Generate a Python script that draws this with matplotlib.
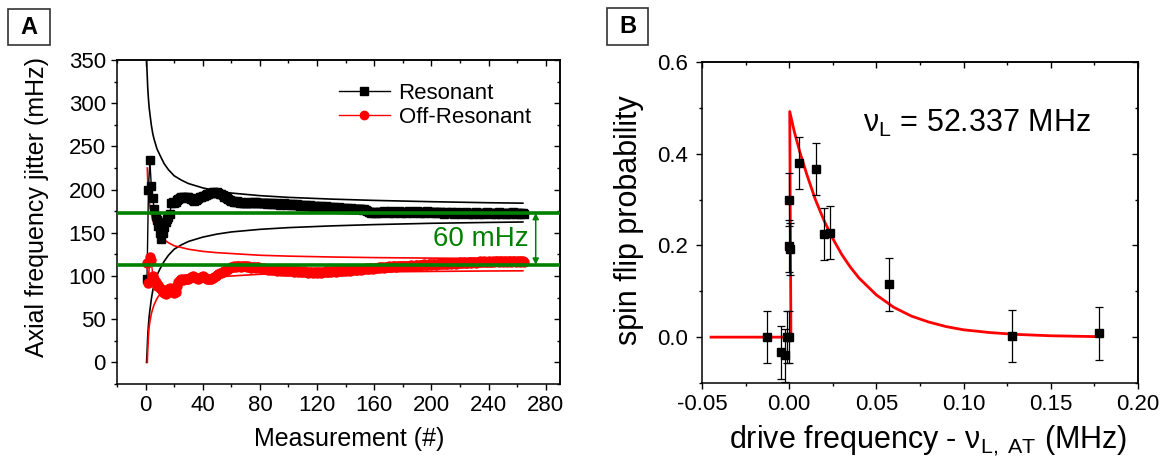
import numpy as np
import matplotlib
matplotlib.use('Agg')
import matplotlib.pyplot as plt
from matplotlib.ticker import MultipleLocator, FormatStrFormatter, NullFormatter
from matplotlib.patches import Rectangle

plt.rcParams['font.family'] = ['Liberation Sans', 'DejaVu Sans']
plt.rcParams['mathtext.fontset'] = 'custom'
plt.rcParams['mathtext.rm'] = 'Liberation Sans'
plt.rcParams['mathtext.it'] = 'Liberation Sans:italic'
plt.rcParams['axes.unicode_minus'] = False

# ---------------- Panel A data ----------------
resonant = [
    96, 200, 234, 204, 190, 178, 170, 165, 158, 150, 143, 150, 157, 163, 166, 168, 172, 184, 186, 185,
    186, 188, 189, 190, 191, 192, 191, 190, 191, 192, 190, 189, 188, 187, 188, 189, 190, 191, 192, 193,
    193, 194, 195, 195, 196, 196, 197, 197, 196, 197, 196, 195, 195, 194, 192, 191, 190, 189, 188, 187,
    187, 186, 186, 187, 186, 185, 186, 185, 185, 184, 185, 186, 185, 184, 185, 186, 186, 185, 184, 185,
    184, 185, 184, 184, 183, 184, 184, 183, 184, 183, 183, 184, 183, 182, 183, 183, 184, 183, 182, 183,
    183, 182, 183, 182, 182, 183, 182, 181, 182, 182, 181, 182, 181, 181, 182, 181, 180, 181, 181, 180,
    181, 180, 181, 180, 180, 181, 180, 179, 180, 180, 179, 180, 179, 179, 180, 179, 178, 179, 179, 178,
    179, 178, 178, 179, 178, 177, 178, 178, 177, 178, 177, 176, 177, 176, 175, 174, 174, 173, 174, 173,
    174, 173, 174, 174, 173, 174, 175, 174, 174, 173, 174, 175, 174, 173, 174, 174, 175, 174, 173, 174,
    174, 173, 174, 175, 174, 174, 173, 174, 174, 175, 174, 173, 174, 174, 173, 174, 175, 174, 174, 173,
    174, 174, 173, 174, 173, 174, 174, 173, 172, 173, 174, 173, 173, 174, 173, 172, 173, 174, 173, 173,
    172, 173, 173, 174, 173, 172, 173, 173, 172, 173, 174, 173, 172, 173, 173, 172, 173, 173, 174, 173,
    173, 172, 173, 173, 172, 173, 174, 173, 172, 173, 173, 172, 173, 173, 172, 173, 174, 173, 172, 173,
    173, 172, 173, 173, 172,
]
off_resonant = [
    115, 92, 122, 119, 100, 96, 93, 88, 90, 86, 85, 82, 80, 79, 82, 85, 86, 84, 81, 80,
    82, 88, 93, 95, 96, 95, 96, 97, 96, 97, 98, 99, 100, 99, 98, 98, 97, 98, 99, 100,
    99, 98, 97, 97, 96, 97, 98, 99, 100, 101, 102, 103, 104, 105, 106, 107, 107, 108, 109, 110,
    110, 111, 110, 111, 112, 111, 110, 111, 112, 111, 110, 111, 110, 109, 110, 110, 109, 110, 110, 109,
    109, 108, 109, 108, 108, 107, 108, 107, 107, 108, 107, 106, 107, 107, 106, 107, 106, 106, 107, 106,
    106, 107, 106, 105, 106, 106, 105, 106, 105, 105, 106, 105, 105, 104, 105, 105, 104, 105, 105, 104,
    105, 105, 104, 105, 105, 106, 105, 105, 106, 105, 106, 106, 105, 106, 106, 107, 106, 106, 107, 106,
    107, 107, 106, 107, 107, 108, 107, 107, 108, 108, 107, 108, 108, 109, 108, 108, 109, 109, 108, 109,
    109, 109, 110, 109, 110, 110, 109, 110, 110, 111, 110, 110, 111, 111, 110, 111, 111, 112, 111, 111,
    112, 112, 111, 112, 112, 113, 112, 112, 113, 113, 112, 113, 113, 113, 114, 113, 113, 114, 114, 113,
    114, 114, 113, 114, 114, 115, 114, 114, 115, 114, 114, 115, 115, 114, 115, 115, 114, 115, 115, 116,
    115, 115, 116, 115, 115, 116, 116, 115, 116, 116, 115, 116, 116, 117, 116, 116, 117, 116, 116, 117,
    116, 116, 117, 116, 117, 117, 116, 117, 117, 116, 117, 117, 116, 117, 117, 116, 117, 117, 116, 117,
    117, 116, 117, 117, 116,
]
# confidence envelopes
res_env_n = [0.7, 1, 1.5, 2, 2.5, 3, 4, 5, 6, 8, 10, 13, 16, 20, 25, 30, 40, 50, 60, 80, 100, 130, 160, 200, 240, 264]
res_env_up = [350, 338, 318, 305, 295, 288, 275, 265, 258, 247, 240, 230, 223, 216, 211, 207, 202, 198.5, 196, 193, 191, 189, 187.5, 186, 184.8, 184.3]
res_env_lo = [0, 10, 30, 43, 53, 60, 73, 83, 90, 101, 108, 117, 124, 131, 136, 140, 145, 148.5, 151, 154, 156, 158, 159.5, 161, 162, 162.5]
off_env_n = [1.2, 1.5, 2, 2.5, 3, 4, 5, 6, 8, 10, 13, 16, 20, 25, 30, 40, 50, 60, 80, 100, 130, 160, 200, 240, 264]
off_env_up = [225, 210, 195, 186, 180, 172, 165, 160, 153, 147, 142, 138.5, 135, 133, 131, 128.5, 127, 126, 124, 123, 122, 121.3, 120.7, 120.2, 120]
off_env_lo = [0, 14, 31, 41, 47, 56, 62, 67, 74, 79, 84, 87.5, 91, 93.5, 95, 97.5, 99, 100, 102, 103, 104, 104.7, 105.3, 105.8, 106]
level_res = 173
level_off = 113
diff_label = "60 mHz"

# ---------------- Panel B data ----------------
bx = [-0.0128, -0.0046, -0.0025, -0.0015, 0.0, -0.0002, 0.0, 0.0002, 0.0056, 0.0155, 0.0202, 0.0235, 0.0575, 0.1275, 0.1777]
by = [0.0, -0.033, -0.040, 0.0, 0.0, 0.300, 0.198, 0.192, 0.380, 0.366, 0.225, 0.228, 0.115, 0.002, 0.008]
berr = [0.057, 0.058, 0.058, 0.057, 0.057, 0.057, 0.057, 0.057, 0.057, 0.057, 0.057, 0.057, 0.057, 0.057, 0.057]
fit_x = [-0.0448, 0.0010, 0.0003, 0.003, 0.006, 0.010, 0.015, 0.020, 0.025, 0.030, 0.035, 0.040, 0.050,
         0.060, 0.070, 0.080, 0.090, 0.100, 0.115, 0.130, 0.150, 0.178]
fit_y = [0.0, 0.0, 0.492, 0.447, 0.405, 0.356, 0.300, 0.254, 0.215, 0.181, 0.153, 0.129, 0.092,
         0.065, 0.046, 0.033, 0.023, 0.016, 0.010, 0.006, 0.003, 0.001]
nu_text = r'$\mathregular{\nu_L}$ = 52.337 MHz'

GREEN = '#008000'
W, H = 1164, 457
fig = plt.figure(figsize=(W / 100, H / 100), dpi=100)


def rect(l, t, r, b):
    return [l / W, 1 - b / H, (r - l) / W, (b - t) / H]


def style(ax, xmaj, xmin, ymaj, ymin):
    ax.xaxis.set_major_locator(MultipleLocator(xmaj))
    ax.xaxis.set_minor_locator(MultipleLocator(xmin))
    ax.yaxis.set_major_locator(MultipleLocator(ymaj))
    ax.yaxis.set_minor_locator(MultipleLocator(ymin))
    ax.tick_params(which='both', direction='out', top=False, right=False, width=1, labelsize=16, colors='black')
    ax.tick_params(which='major', length=4, pad=4)
    ax.tick_params(which='minor', length=2.5)
    for s in ax.spines.values():
        s.set_linewidth(1.1)
    sx = ax.secondary_xaxis('top')
    sx.xaxis.set_major_locator(MultipleLocator(xmaj))
    sx.xaxis.set_minor_locator(MultipleLocator(xmin))
    sx.xaxis.set_major_formatter(NullFormatter())
    sx.tick_params(which='both', direction='in', width=1)
    sx.tick_params(which='major', length=4)
    sx.tick_params(which='minor', length=2.5)
    sx.spines['top'].set_linewidth(1.1)
    sy = ax.secondary_yaxis('right')
    sy.yaxis.set_major_locator(MultipleLocator(ymaj))
    sy.yaxis.set_minor_locator(MultipleLocator(ymin))
    sy.yaxis.set_major_formatter(NullFormatter())
    sy.tick_params(which='both', direction='in', width=1)
    sy.tick_params(which='major', length=4)
    sy.tick_params(which='minor', length=2.5)
    sy.spines['right'].set_linewidth(1.1)


# ---------------- Panel A ----------------
axA = fig.add_axes(rect(117, 60, 560, 384))
nA = np.arange(1, len(resonant) + 1)
nB = np.arange(1, len(off_resonant) + 1)
axA.plot(res_env_n, res_env_up, color='black', lw=1.2, zorder=2)
axA.plot(res_env_n, res_env_lo, color='black', lw=1.2, zorder=2)
axA.plot(off_env_n, off_env_up, color='red', lw=1.2, zorder=2)
axA.plot(off_env_n, off_env_lo, color='red', lw=1.2, zorder=2)
axA.plot(nA, resonant, color='black', lw=1, marker='s', ms=6, mec='black', mfc='black',
         label='Resonant', zorder=3)
axA.plot(nB, off_resonant, color='red', lw=1, marker='o', ms=6.5, mec='red', mfc='red',
         label='Off-Resonant', zorder=3)
axA.axhline(level_res, color=GREEN, lw=2.6, zorder=5)
axA.axhline(level_off, color=GREEN, lw=2.6, zorder=5)
axA.annotate('', xy=(273, level_off), xytext=(273, level_res),
             arrowprops=dict(arrowstyle='<|-|>', color=GREEN, lw=1.1, shrinkA=0, shrinkB=0,
                             mutation_scale=9), zorder=6)
axA.text(268, (level_res + level_off) / 2, diff_label, color=GREEN, fontsize=20, ha='right', va='center')
axA.set_xlim(-20, 290)
axA.set_ylim(-25, 350)
style(axA, 40, 20, 50, 25)
leg = axA.legend(loc='upper left', bbox_to_anchor=(0.50, 0.93), frameon=False, fontsize=16,
                 numpoints=1, handlelength=2.3, handletextpad=0.4, labelspacing=0.15, borderpad=0,
                 borderaxespad=0)
for h in leg.legend_handles:
    h.set_markersize(6)
fig.text(37 / W, 1 - 207 / H, 'Axial frequency jitter (mHz)', rotation=90, ha='center', va='center',
         fontsize=18)
fig.text(349 / W, 1 - 446 / H, 'Measurement (#)', ha='center', va='baseline', fontsize=18)

# ---------------- Panel B ----------------
axB = fig.add_axes(rect(702, 62, 1138, 383))
axB.plot(fit_x, fit_y, color='red', lw=2, zorder=2)
axB.errorbar(bx, by, yerr=berr, fmt='s', color='black', ms=6, ecolor='black', elinewidth=0.9,
             capsize=3, capthick=0.9, zorder=3)
axB.text(0.0424, 0.447, nu_text, fontsize=22, ha='left', va='baseline')
axB.set_xlim(-0.05, 0.20)
axB.set_ylim(-0.1, 0.6)
style(axB, 0.05, 0.025, 0.2, 0.1)
axB.xaxis.set_major_formatter(FormatStrFormatter('%.2f'))
axB.yaxis.set_major_formatter(FormatStrFormatter('%.1f'))
axB.tick_params(axis='y', which='major', pad=6)
fig.text(629 / W, 1 - 220 / H, 'spin flip probability', rotation=90, ha='center', va='center', fontsize=22)
fig.text(928 / W, 1 - 448 / H, r'drive frequency - $\mathregular{\nu_{L,\ AT}}$ (MHz)', ha='center',
         va='baseline', fontsize=22)

# ---------------- panel letters ----------------
for (l, t, r, b, s) in [(8, 9, 50, 45, 'A'), (607, 8, 648, 45, 'B')]:
    fig.patches.append(Rectangle((l / W, 1 - b / H), (r - l) / W, (b - t) / H, transform=fig.transFigure,
                                 fill=False, ec='#333333', lw=1.2))
    fig.text((l + r) / 2 / W, 1 - (t + b) / 2 / H, s, ha='center', va='center', fontsize=17,
             fontweight='bold')

fig.savefig('out.png', dpi=100)
